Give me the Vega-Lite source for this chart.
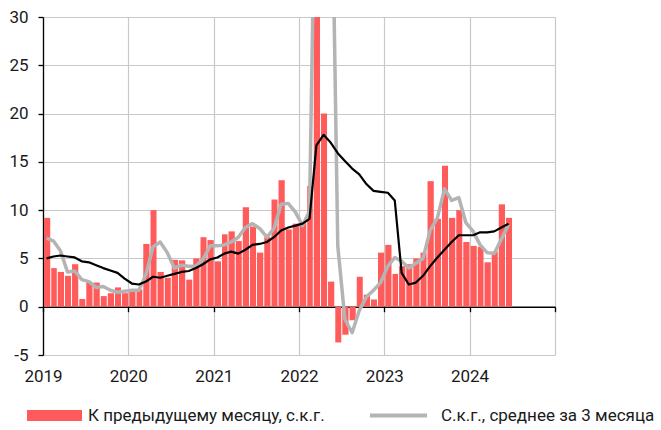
{
  "$schema": "https://vega.github.io/schema/vega-lite/v6.json",
  "width": 512,
  "height": 338,
  "autosize": {"type": "none"},
  "padding": {"left": 43, "top": 17, "right": 106, "bottom": 75},
  "background": "white",
  "config": {
    "view": {"stroke": null},
    "font": "Roboto",
    "axis": {"labelFont": "Roboto", "labelFontSize": 17, "labelColor": "#1a1a1a", "title": null}
  },
  "data": {
    "values": [
      {"month": "2019-01", "m": 9.2, "a": 7.1, "y": 5.0},
      {"month": "2019-02", "m": 4.0, "a": 6.8, "y": 5.2},
      {"month": "2019-03", "m": 3.6, "a": 5.8, "y": 5.3},
      {"month": "2019-04", "m": 3.2, "a": 3.6, "y": 5.2},
      {"month": "2019-05", "m": 4.4, "a": 3.7, "y": 5.1},
      {"month": "2019-06", "m": 0.8, "a": 2.8, "y": 4.7},
      {"month": "2019-07", "m": 2.5, "a": 2.6, "y": 4.6},
      {"month": "2019-08", "m": 2.5, "a": 2.0, "y": 4.3},
      {"month": "2019-09", "m": 1.1, "a": 2.1, "y": 4.0},
      {"month": "2019-10", "m": 1.4, "a": 1.7, "y": 3.75},
      {"month": "2019-11", "m": 2.0, "a": 1.5, "y": 3.5},
      {"month": "2019-12", "m": 1.4, "a": 1.6, "y": 2.9},
      {"month": "2020-01", "m": 1.55, "a": 1.7, "y": 2.4},
      {"month": "2020-02", "m": 1.8, "a": 1.7, "y": 2.3},
      {"month": "2020-03", "m": 6.5, "a": 3.3, "y": 2.6},
      {"month": "2020-04", "m": 10.0, "a": 6.2, "y": 3.1},
      {"month": "2020-05", "m": 3.6, "a": 6.7, "y": 3.0},
      {"month": "2020-06", "m": 3.0, "a": 5.6, "y": 3.2},
      {"month": "2020-07", "m": 4.85, "a": 4.0, "y": 3.4},
      {"month": "2020-08", "m": 4.8, "a": 4.3, "y": 3.6},
      {"month": "2020-09", "m": 2.8, "a": 4.2, "y": 3.7},
      {"month": "2020-10", "m": 5.0, "a": 4.2, "y": 4.0},
      {"month": "2020-11", "m": 7.2, "a": 4.9, "y": 4.4},
      {"month": "2020-12", "m": 6.9, "a": 6.3, "y": 4.9},
      {"month": "2021-01", "m": 4.7, "a": 6.3, "y": 5.1},
      {"month": "2021-02", "m": 7.5, "a": 6.4, "y": 5.5},
      {"month": "2021-03", "m": 7.8, "a": 6.7, "y": 5.7},
      {"month": "2021-04", "m": 6.8, "a": 7.2, "y": 5.5},
      {"month": "2021-05", "m": 10.3, "a": 8.2, "y": 5.9},
      {"month": "2021-06", "m": 8.3, "a": 8.6, "y": 6.4},
      {"month": "2021-07", "m": 5.6, "a": 8.1, "y": 6.5},
      {"month": "2021-08", "m": 7.2, "a": 7.2, "y": 6.7},
      {"month": "2021-09", "m": 11.1, "a": 8.1, "y": 7.2},
      {"month": "2021-10", "m": 13.1, "a": 10.6, "y": 7.9},
      {"month": "2021-11", "m": 8.0, "a": 10.7, "y": 8.2},
      {"month": "2021-12", "m": 8.6, "a": 9.8, "y": 8.4},
      {"month": "2022-01", "m": 8.65, "a": 8.4, "y": 8.6},
      {"month": "2022-02", "m": 12.5, "a": 9.9, "y": 9.1},
      {"month": "2022-03", "m": 135, "a": 53, "y": 16.7},
      {"month": "2022-04", "m": 20.0, "a": 56, "y": 17.8},
      {"month": "2022-05", "m": 2.6, "a": 53, "y": 17.0},
      {"month": "2022-06", "m": -3.7, "a": 6.3, "y": 15.9},
      {"month": "2022-07", "m": -2.9, "a": -1.3, "y": 15.1},
      {"month": "2022-08", "m": -1.4, "a": -2.7, "y": 14.3},
      {"month": "2022-09", "m": 3.1, "a": -0.4, "y": 13.7},
      {"month": "2022-10", "m": 1.25, "a": 1.0, "y": 12.7},
      {"month": "2022-11", "m": 0.75, "a": 1.7, "y": 12.0},
      {"month": "2022-12", "m": 5.6, "a": 2.5, "y": 11.9},
      {"month": "2023-01", "m": 6.4, "a": 4.2, "y": 11.8},
      {"month": "2023-02", "m": 3.4, "a": 5.1, "y": 11.0},
      {"month": "2023-03", "m": 4.2, "a": 4.7, "y": 3.5},
      {"month": "2023-04", "m": 4.4, "a": 4.0, "y": 2.3},
      {"month": "2023-05", "m": 5.0, "a": 4.5, "y": 2.5},
      {"month": "2023-06", "m": 5.6, "a": 5.0, "y": 3.2},
      {"month": "2023-07", "m": 13.0, "a": 7.9, "y": 4.2},
      {"month": "2023-08", "m": 9.1, "a": 9.2, "y": 5.1},
      {"month": "2023-09", "m": 14.6, "a": 12.2, "y": 5.9},
      {"month": "2023-10", "m": 9.2, "a": 11.0, "y": 6.7},
      {"month": "2023-11", "m": 10.0, "a": 11.3, "y": 7.4},
      {"month": "2023-12", "m": 6.7, "a": 8.7, "y": 7.4},
      {"month": "2024-01", "m": 6.3, "a": 7.8, "y": 7.4},
      {"month": "2024-02", "m": 6.2, "a": 6.4, "y": 7.7},
      {"month": "2024-03", "m": 4.6, "a": 5.6, "y": 7.7},
      {"month": "2024-04", "m": 5.7, "a": 5.5, "y": 7.8},
      {"month": "2024-05", "m": 10.6, "a": 7.0, "y": 8.2},
      {"month": "2024-06", "m": 9.2, "a": 8.5, "y": 8.6}
    ]
  },
  "resolve": {"axis": {"x": "independent"}},
  "layer": [
    {
      "mark": {"type": "bar", "clip": true, "timeUnitBandSize": 0.72},
      "encoding": {
        "x": {
          "field": "month", "timeUnit": "utcyearmonth", "type": "temporal",
          "scale": {"domain": [{"year": 2019, "month": 1, "date": 1, "utc": true}, {"year": 2025, "month": 1, "date": 1, "utc": true}], "nice": false},
          "axis": {
            "orient": "bottom", "domain": false, "ticks": false, "grid": true,
            "gridColor": "#c8c8c8", "gridWidth": 1.2,
            "values": [
              {"year": 2019, "month": 1, "date": 1, "utc": true},
              {"year": 2020, "month": 1, "date": 1, "utc": true},
              {"year": 2021, "month": 1, "date": 1, "utc": true},
              {"year": 2022, "month": 1, "date": 1, "utc": true},
              {"year": 2023, "month": 1, "date": 1, "utc": true},
              {"year": 2024, "month": 1, "date": 1, "utc": true},
              {"year": 2025, "month": 1, "date": 1, "utc": true}
            ],
            "labelExpr": "utcyear(datum.value) >= 2025 ? '' : utcFormat(datum.value, '%Y')",
            "labelFlush": false, "labelOverlap": false, "labelPadding": 13, "labelDx": 3, "labelAlign": "center"
          }
        },
        "y": {
          "field": "m", "type": "quantitative",
          "scale": {"domain": [-5, 30], "nice": false, "zero": false},
          "axis": {
            "values": [-5, 0, 5, 10, 15, 20, 25, 30],
            "labelExpr": "'' + datum.value",
            "domain": true, "domainColor": "#000000", "domainWidth": 1.3,
            "ticks": true, "tickColor": "#000000", "tickSize": 5, "tickWidth": 1.3,
            "grid": true, "gridColor": "#c8c8c8", "gridWidth": 1.2,
            "labelPadding": 10
          }
        },
        "fill": {
          "datum": "К предыдущему месяцу, с.к.г.",
          "scale": {"range": ["#ff5b5b"]},
          "legend": {
            "orient": "none", "legendX": -16, "legendY": 390, "padding": 0,
            "title": null, "symbolType": "M-1,-0.2H1V0.2H-1Z", "symbolSize": 3025,
            "symbolStrokeWidth": 0, "clipHeight": 17, "labelOffset": 6, "labelLimit": 500,
            "labelFont": "Roboto", "labelFontSize": 17, "labelColor": "#1a1a1a"
          }
        }
      }
    },
    {
      "mark": {"type": "line", "clip": true, "strokeWidth": 3.5, "strokeJoin": "round"},
      "encoding": {
        "x": {"field": "month", "timeUnit": "utcyearmonth", "type": "temporal", "bandPosition": 0.5, "axis": null},
        "y": {"field": "a", "type": "quantitative"},
        "stroke": {
          "datum": "С.к.г., среднее за 3 месяца",
          "scale": {"range": ["#b4b4b4"]},
          "legend": {
            "orient": "none", "legendX": 325, "legendY": 390, "padding": 0,
            "title": null, "symbolType": "stroke", "symbolSize": 3249,
            "symbolStrokeWidth": 4, "clipHeight": 17, "labelOffset": 12, "labelLimit": 500,
            "labelFont": "Roboto", "labelFontSize": 17, "labelColor": "#1a1a1a"
          }
        }
      }
    },
    {
      "mark": {"type": "line", "clip": true, "strokeWidth": 2.2, "color": "#000000", "strokeJoin": "round"},
      "encoding": {
        "x": {
          "field": "month", "timeUnit": "utcyearmonth", "type": "temporal", "bandPosition": 0.5,
          "axis": {
            "orient": "bottom", "offset": -48.3, "labels": false, "grid": false,
            "domain": true, "domainColor": "#000000", "domainWidth": 1.5,
            "ticks": true, "tickColor": "#000000", "tickSize": 5, "tickWidth": 1.3,
            "values": [
              {"year": 2019, "month": 1, "date": 1, "utc": true},
              {"year": 2020, "month": 1, "date": 1, "utc": true},
              {"year": 2021, "month": 1, "date": 1, "utc": true},
              {"year": 2022, "month": 1, "date": 1, "utc": true},
              {"year": 2023, "month": 1, "date": 1, "utc": true},
              {"year": 2024, "month": 1, "date": 1, "utc": true},
              {"year": 2025, "month": 1, "date": 1, "utc": true}
            ]
          }
        },
        "y": {"field": "y", "type": "quantitative"}
      }
    }
  ]
}
